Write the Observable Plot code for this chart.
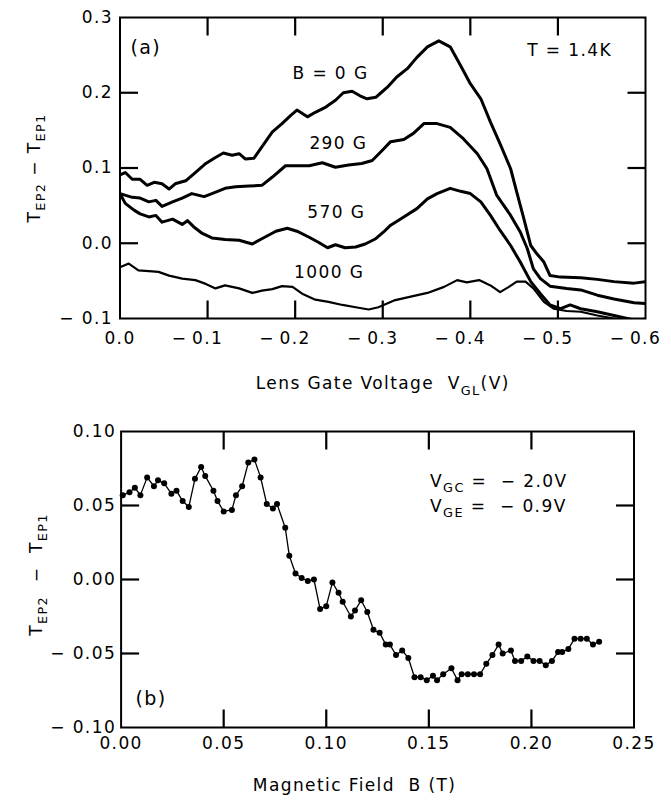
<!DOCTYPE html>
<html>
<head>
<meta charset="utf-8">
<script src="https://cdn.jsdelivr.net/npm/d3@7"></script>
<script src="https://cdn.jsdelivr.net/npm/@observablehq/plot@0.6"></script>
<style>
  html, body { margin: 0; padding: 0; background: #fff; }
  #chart { width: 671px; height: 803px; }
  #chart svg { display: block; }
  #chart svg text { letter-spacing: 1.4px; }
</style>
</head>
<body>
<div id="chart"></div>
<script>
// ---------------- Panel (a): T_EP2 - T_EP1 vs lens gate voltage ----------------
const vgl_B0 = [0, -0.006, -0.014, -0.023, -0.031, -0.039, -0.048, -0.056, -0.063, -0.075, -0.086, -0.098, -0.109, -0.118, -0.128, -0.136, -0.143, -0.153, -0.162, -0.174, -0.185, -0.195, -0.202, -0.214, -0.223, -0.235, -0.246, -0.255, -0.265, -0.274, -0.282, -0.292, -0.299, -0.305, -0.316, -0.328, -0.339, -0.351, -0.364, -0.377, -0.389, -0.400, -0.412, -0.423, -0.434, -0.446, -0.453, -0.461, -0.469, -0.476, -0.484, -0.491, -0.503, -0.526, -0.545, -0.564, -0.587, -0.6];
const t_B0 = [0.091, 0.094, 0.085, 0.085, 0.077, 0.081, 0.079, 0.072, 0.079, 0.083, 0.094, 0.106, 0.114, 0.120, 0.117, 0.119, 0.112, 0.113, 0.128, 0.148, 0.159, 0.170, 0.177, 0.168, 0.174, 0.181, 0.190, 0.200, 0.202, 0.196, 0.192, 0.194, 0.201, 0.207, 0.221, 0.232, 0.247, 0.261, 0.269, 0.261, 0.236, 0.212, 0.192, 0.161, 0.132, 0.099, 0.068, 0.033, -0.003, -0.014, -0.025, -0.043, -0.045, -0.046, -0.048, -0.051, -0.053, -0.051];

const vgl_290 = [0, -0.014, -0.023, -0.033, -0.041, -0.048, -0.060, -0.071, -0.082, -0.096, -0.105, -0.120, -0.132, -0.147, -0.162, -0.174, -0.189, -0.202, -0.216, -0.231, -0.246, -0.261, -0.276, -0.288, -0.299, -0.309, -0.324, -0.335, -0.347, -0.362, -0.377, -0.392, -0.408, -0.419, -0.430, -0.446, -0.457, -0.465, -0.472, -0.480, -0.491, -0.510, -0.526, -0.545, -0.564, -0.587, -0.6];
const t_290 = [0.066, 0.061, 0.060, 0.055, 0.057, 0.049, 0.055, 0.060, 0.066, 0.062, 0.066, 0.073, 0.075, 0.076, 0.077, 0.088, 0.103, 0.103, 0.103, 0.107, 0.101, 0.104, 0.106, 0.110, 0.123, 0.135, 0.138, 0.146, 0.159, 0.159, 0.154, 0.139, 0.119, 0.099, 0.064, 0.037, 0.015, -0.007, -0.034, -0.047, -0.057, -0.060, -0.062, -0.069, -0.074, -0.079, -0.080];

const vgl_570 = [0, -0.006, -0.016, -0.023, -0.033, -0.041, -0.048, -0.060, -0.071, -0.077, -0.084, -0.094, -0.105, -0.120, -0.136, -0.151, -0.162, -0.178, -0.191, -0.202, -0.216, -0.227, -0.237, -0.246, -0.257, -0.269, -0.280, -0.292, -0.301, -0.309, -0.324, -0.339, -0.351, -0.362, -0.377, -0.389, -0.400, -0.412, -0.423, -0.434, -0.446, -0.457, -0.469, -0.480, -0.491, -0.503, -0.514, -0.526, -0.545, -0.564, -0.587, -0.6];
const t_570 = [0.066, 0.053, 0.044, 0.039, 0.035, 0.037, 0.028, 0.032, 0.025, 0.030, 0.022, 0.013, 0.007, 0.005, 0.004, -0.001, 0.006, 0.016, 0.020, 0.016, 0.008, 0.001, -0.006, -0.002, -0.006, -0.005, -0.001, 0.006, 0.015, 0.024, 0.035, 0.046, 0.059, 0.066, 0.073, 0.069, 0.066, 0.055, 0.037, 0.017, -0.003, -0.025, -0.051, -0.067, -0.082, -0.087, -0.082, -0.087, -0.091, -0.096, -0.102, -0.101];

const vgl_1000 = [0, -0.010, -0.021, -0.033, -0.044, -0.056, -0.071, -0.086, -0.098, -0.109, -0.120, -0.136, -0.151, -0.162, -0.174, -0.185, -0.197, -0.208, -0.223, -0.238, -0.254, -0.269, -0.284, -0.295, -0.313, -0.332, -0.351, -0.370, -0.385, -0.396, -0.410, -0.423, -0.434, -0.444, -0.453, -0.463, -0.472, -0.484, -0.495, -0.510, -0.526, -0.545, -0.564, -0.583, -0.6];
const t_1000 = [-0.032, -0.027, -0.036, -0.037, -0.038, -0.043, -0.047, -0.049, -0.054, -0.060, -0.056, -0.060, -0.066, -0.063, -0.061, -0.057, -0.058, -0.067, -0.075, -0.078, -0.082, -0.085, -0.088, -0.085, -0.076, -0.071, -0.066, -0.058, -0.049, -0.052, -0.049, -0.056, -0.065, -0.058, -0.051, -0.051, -0.060, -0.078, -0.087, -0.090, -0.091, -0.096, -0.100, -0.104, -0.106];

const aTicksX = [0, -0.1, -0.2, -0.3, -0.4, -0.5, -0.6];
const aTicksY = [0.3, 0.2, 0.1, 0.0, -0.1];

// ---------------- Panel (b): T_EP2 - T_EP1 vs magnetic field ----------------
const fieldB = [0.0008, 0.0041, 0.0067, 0.0094, 0.0127, 0.016, 0.018, 0.021, 0.0245, 0.027, 0.030, 0.033, 0.036, 0.039, 0.041, 0.045, 0.047, 0.050, 0.054, 0.056, 0.059, 0.062, 0.065, 0.068, 0.071, 0.074, 0.076, 0.080, 0.082, 0.085, 0.088, 0.091, 0.094, 0.097, 0.100, 0.103, 0.106, 0.108, 0.112, 0.114, 0.117, 0.120, 0.123, 0.126, 0.129, 0.131, 0.134, 0.137, 0.140, 0.143, 0.146, 0.149, 0.152, 0.154, 0.157, 0.161, 0.164, 0.166, 0.169, 0.172, 0.175, 0.178, 0.181, 0.184, 0.186, 0.190, 0.192, 0.195, 0.198, 0.201, 0.204, 0.207, 0.210, 0.213, 0.215, 0.218, 0.221, 0.224, 0.227, 0.230, 0.233];
const tB = [0.057, 0.059, 0.062, 0.057, 0.069, 0.063, 0.067, 0.065, 0.058, 0.060, 0.053, 0.049, 0.068, 0.076, 0.070, 0.060, 0.053, 0.046, 0.047, 0.057, 0.063, 0.079, 0.081, 0.069, 0.051, 0.048, 0.051, 0.035, 0.016, 0.004, 0.001, -0.001, 0.000, -0.020, -0.018, -0.002, -0.009, -0.015, -0.025, -0.021, -0.014, -0.022, -0.034, -0.036, -0.044, -0.044, -0.051, -0.048, -0.053, -0.066, -0.066, -0.068, -0.065, -0.068, -0.064, -0.060, -0.068, -0.064, -0.064, -0.064, -0.064, -0.057, -0.051, -0.044, -0.050, -0.048, -0.055, -0.055, -0.052, -0.055, -0.055, -0.058, -0.055, -0.049, -0.049, -0.047, -0.040, -0.040, -0.040, -0.044, -0.042];

const bTicksX = [0, 0.05, 0.10, 0.15, 0.20, 0.25];
const bTicksY = [0.10, 0.05, 0.00, -0.05, -0.10];

// ---------------- helpers ----------------
const zip = (xs, ys) => xs.map((x, i) => ({x, y: ys[i]}));
const inner = arr => arr.slice(1, -1);
const MINUS = "\u2212";
const NB = "\u00A0";
const TICK = 18;   // inward tick length, px
const LS = 1.4;    // letter spacing, px
const FONT = "'DejaVu Sans', sans-serif";

// inward frame ticks drawn as short line series (one z group per tick)
function frameTicks(xTicks, yTicks, xDom, yDom, innerW, innerH) {
  const lx = (xDom[1] - xDom[0]) / innerW * TICK;
  const ly = (yDom[1] - yDom[0]) / innerH * TICK;
  const pts = [];
  let id = 0;
  inner(xTicks).forEach(v => {
    id++; pts.push({x: v, y: yDom[0], z: id}, {x: v, y: yDom[0] + ly, z: id});
    id++; pts.push({x: v, y: yDom[1] - ly, z: id}, {x: v, y: yDom[1], z: id});
  });
  inner(yTicks).forEach(v => {
    id++; pts.push({x: xDom[0], y: v, z: id}, {x: xDom[0] + lx, y: v, z: id});
    id++; pts.push({x: xDom[1] - lx, y: v, z: id}, {x: xDom[1], y: v, z: id});
  });
  return Plot.line(pts, {x: "x", y: "y", z: "z", stroke: "black", strokeWidth: 2.2, strokeLinecap: "butt"});
}

// text with subscripts, built from several Plot.text marks placed by measured widths
const ctx = document.createElement("canvas").getContext("2d");
function tw(str, size) {
  ctx.font = size + "px 'DejaVu Sans'";
  return ctx.measureText(str).width + LS * Array.from(str).length;
}
function rich(parts, size) {
  const sub = Math.round(size * 0.75 * 10) / 10;
  let off = 0;
  const items = parts.map(([t, isSub]) => {
    const fs = isSub ? sub : size;
    const o = {t, isSub, fs, off};
    off += tw(t, fs);
    return o;
  });
  return {items, W: off, shift: 5 + 0.32 * (size - sub)};
}
function hText(parts, size, where, align) {
  const {items, W, shift} = rich(parts, size);
  const start = align === "middle" ? -W / 2 : 0;
  const {dx = 0, dy = 0, ...rest} = where;
  return items.map(p => Plot.text([p.t], {...rest, text: d => d, textAnchor: "start", fontSize: p.fs,
    dx: dx + start + p.off, dy: dy + (p.isSub ? shift : 0)}));
}
function vText(parts, size, where) {
  const {items, W, shift} = rich(parts, size);
  const {dx = 0, dy = 0, ...rest} = where;
  return items.map(p => Plot.text([p.t], {...rest, text: d => d, textAnchor: "start", rotate: -90, fontSize: p.fs,
    dx: dx + (p.isSub ? shift : 0), dy: dy + W / 2 - p.off}));
}

// ---------------- Plot (a) ----------------
const A = {w: 671, h: 400, ml: 119.5, mr: 26, mt: 17, mb: 82};
const aH = A.h - A.mt - A.mb, aW = A.w - A.ml - A.mr;
const aXdom = [0, -0.6], aYdom = [-0.1, 0.3];
const fmt1 = d => d3.format(".1f")(Math.abs(d));

const plotA = Plot.plot({
  width: A.w, height: A.h,
  marginLeft: A.ml, marginRight: A.mr, marginTop: A.mt, marginBottom: A.mb,
  style: {fontFamily: FONT, fontSize: "17px", background: "white", color: "black", overflow: "visible"},
  x: {domain: aXdom, axis: null},
  y: {domain: aYdom, axis: null},
  marks: [
    Plot.line(zip(vgl_1000, t_1000), {x: "x", y: "y", stroke: "black", strokeWidth: 2.2, clip: true}),
    Plot.line(zip(vgl_570, t_570), {x: "x", y: "y", stroke: "black", strokeWidth: 3, clip: true}),
    Plot.line(zip(vgl_290, t_290), {x: "x", y: "y", stroke: "black", strokeWidth: 3, clip: true}),
    Plot.line(zip(vgl_B0, t_B0), {x: "x", y: "y", stroke: "black", strokeWidth: 3, clip: true}),
    frameTicks(aTicksX, aTicksY, aXdom, aYdom, aW, aH),
    Plot.frame({stroke: "black", strokeWidth: 2}),
    Plot.text(aTicksX, {x: d => d, text: fmt1, frameAnchor: "bottom", lineAnchor: "top", dy: 13}),
    Plot.text(aTicksX.filter(d => d < 0), {x: d => d, text: () => MINUS, frameAnchor: "bottom", lineAnchor: "top", dy: 13, dx: -28}),
    Plot.text(aTicksY, {y: d => d, text: d => (d < 0 ? MINUS + " " : "") + fmt1(d), frameAnchor: "left", textAnchor: "end", dx: -7}),
    Plot.text(["(a)"], {x: () => -0.012, y: () => 0.259, text: d => d, textAnchor: "start", fontSize: 19}),
    Plot.text(["T = 1.4K"], {x: () => -0.465, y: () => 0.256, text: d => d, textAnchor: "start"}),
    Plot.text(["B = 0 G"], {x: () => -0.2837, y: () => 0.2256, text: d => d, textAnchor: "end"}),
    Plot.text(["290" + NB + "G"], {x: () => -0.2825, y: () => 0.1327, text: d => d, textAnchor: "end"}),
    Plot.text(["570" + NB + "G"], {x: () => -0.280, y: () => 0.041, text: d => d, textAnchor: "end"}),
    Plot.text(["1000" + NB + "G"], {x: () => -0.279, y: () => -0.0386, text: d => d, textAnchor: "end"}),
    ...hText([["Lens Gate Voltage" + NB + NB + "V"], ["GL", true], ["(V)"]], 17, {frameAnchor: "bottom", dy: 70}, "middle"),
    ...vText([["T"], ["EP2", true], [NB + MINUS + NB + "T"], ["EP1", true]], 17, {frameAnchor: "left", dx: -85})
  ]
});

// ---------------- Plot (b) ----------------
const B = {w: 671, h: 403, ml: 120.6, mr: 37.5, mt: 31, mb: 76};
const bH = B.h - B.mt - B.mb, bW = B.w - B.ml - B.mr;
const bXdom = [0, 0.25], bYdom = [-0.10, 0.10];
const fmt2 = d => d3.format(".2f")(Math.abs(d));
const dataB = zip(fieldB, tB);

const plotB = Plot.plot({
  width: B.w, height: B.h,
  marginLeft: B.ml, marginRight: B.mr, marginTop: B.mt, marginBottom: B.mb,
  style: {fontFamily: FONT, fontSize: "17px", background: "white", color: "black", overflow: "visible"},
  x: {domain: bXdom, axis: null},
  y: {domain: bYdom, axis: null},
  marks: [
    Plot.line(dataB, {x: "x", y: "y", stroke: "black", strokeWidth: 1.3}),
    Plot.dot(dataB, {x: "x", y: "y", r: 3, fill: "black", stroke: "none"}),
    frameTicks(bTicksX, bTicksY, bXdom, bYdom, bW, bH),
    Plot.frame({stroke: "black", strokeWidth: 2}),
    Plot.text(bTicksX, {x: d => d, text: fmt2, frameAnchor: "bottom", lineAnchor: "top", dy: 9}),
    Plot.text(bTicksY, {y: d => d, text: d => (d < 0 ? MINUS + " " : "") + fmt2(d), frameAnchor: "left", textAnchor: "end", dx: -5}),
    Plot.text(["(b)"], {x: () => 0.007, y: () => -0.0804, text: d => d, textAnchor: "start", fontSize: 19}),
    ...hText([["V"], ["GC", true], [NB + "=" + NB + NB + MINUS + NB + "2.0V"]], 17, {x: () => 0.1506, y: () => 0.0662}, "start"),
    ...hText([["V"], ["GE", true], [NB + "=" + NB + NB + MINUS + NB + "0.9V"]], 17, {x: () => 0.1506, y: () => 0.0493}, "start"),
    Plot.text(["Magnetic Field" + NB + NB + "B (T)"], {text: d => d, frameAnchor: "bottom", textAnchor: "middle", dy: 63, dx: -23}),
    ...vText([["T"], ["EP2", true], [NB + NB + MINUS + NB + NB + "T"], ["EP1", true]], 17, {frameAnchor: "left", dx: -85, dy: -5})
  ]
});

const root = document.getElementById("chart");
root.appendChild(plotA);
root.appendChild(plotB);
</script>
</body>
</html>
